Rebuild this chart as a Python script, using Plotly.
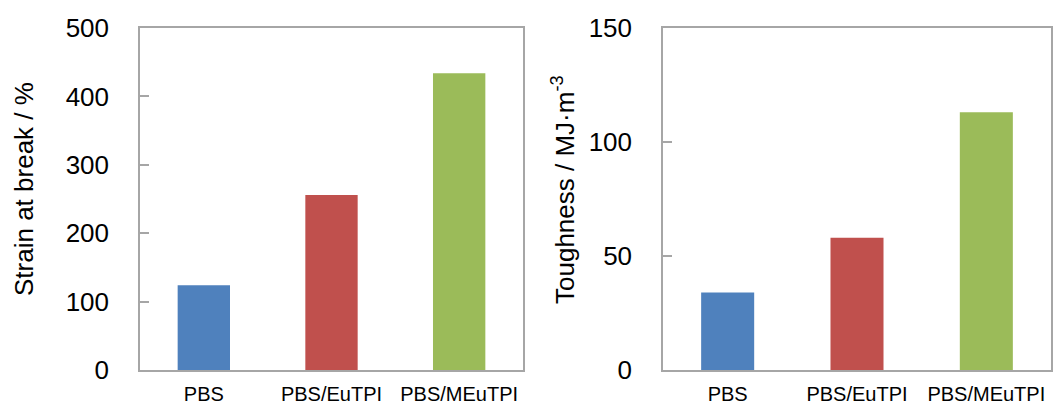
import plotly.graph_objects as go

categories = ["PBS", "PBS/EuTPI", "PBS/MEuTPI"]
strain = [124, 256, 434]
toughness = [34, 58, 113]
colors = ["#4F81BD", "#C0504D", "#9BBB59"]
strain_ticks = [0, 100, 200, 300, 400, 500]
tough_ticks = [0, 50, 100, 150]

W, H = 1053, 405
FONT = "Liberation Sans, Arial, sans-serif"
AX = "#A6A6A6"

fig = go.Figure()
fig.add_trace(go.Bar(x=categories, y=strain, marker=dict(color=colors, line=dict(width=0)),
                     xaxis="x", yaxis="y", showlegend=False))
fig.add_trace(go.Bar(x=categories, y=toughness, marker=dict(color=colors, line=dict(width=0)),
                     xaxis="x2", yaxis="y2", showlegend=False))

ydom = [1 - 370 / H, 1 - 28 / H]

common_x = dict(showline=True, linecolor=AX, linewidth=1.5, mirror=True, ticks="",
                tickfont=dict(family=FONT, size=20, color="#000"), ticklabelstandoff=5,
                showgrid=False, zeroline=False, fixedrange=True, automargin=False)
common_y = dict(showline=True, linecolor=AX, linewidth=1.5, mirror=True, ticks="inside",
                ticklen=9, tickcolor=AX, tickwidth=1.5,
                tickfont=dict(family=FONT, size=26, color="#000"), ticklabelstandoff=24,
                showgrid=False, zeroline=False, fixedrange=True, automargin=False)

fig.update_layout(
    width=W, height=H,
    margin=dict(l=0, r=0, t=0, b=0, pad=0),
    paper_bgcolor="white", plot_bgcolor="white",
    bargap=0.59,
    xaxis=dict(domain=[140 / W, 523 / W], anchor="y", **common_x),
    yaxis=dict(domain=ydom, anchor="x", range=[0, 500], tickvals=strain_ticks, **common_y),
    xaxis2=dict(domain=[663 / W, 1051 / W], anchor="y2", **common_x),
    yaxis2=dict(domain=ydom, anchor="x2", range=[0, 150], tickvals=tough_ticks, **common_y),
    annotations=[
        dict(text="Strain at break / %", textangle=-90, xref="paper", yref="paper",
             x=24 / W, y=1 - 189 / H, xanchor="center", yanchor="middle", showarrow=False,
             font=dict(family=FONT, size=26, color="#000")),
        dict(text="Toughness / MJ·m<sup>-3</sup>", textangle=-90, xref="paper", yref="paper",
             x=563 / W, y=1 - 190 / H, xanchor="center", yanchor="middle", showarrow=False,
             font=dict(family=FONT, size=26, color="#000")),
    ],
)

fig.write_html("out.html", config={"displayModeBar": False},
               post_script="document.body.style.margin='0';")
